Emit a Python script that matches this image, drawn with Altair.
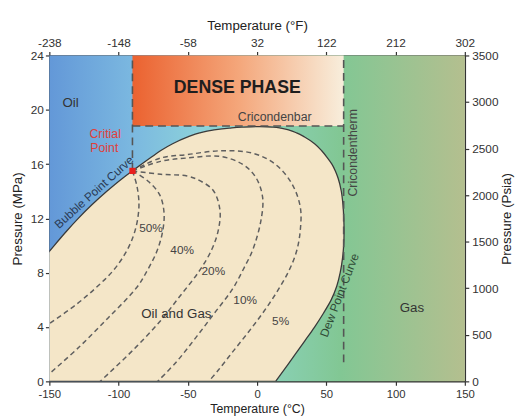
import altair as alt
import pandas as pd

FONT = "Liberation Sans Narrow, Arial Narrow, Liberation Sans, sans-serif"

# ---------------- axes ----------------
X_DOMAIN = [-150, 150]
Y_DOMAIN = [0, 24]
X_TICKS = [-150, -100, -50, 0, 50, 100, 150]
Y_TICKS = [0, 4, 8, 12, 16, 20, 24]
F_DOMAIN = [-238, 302]
F_TICKS = [-238, -148, -58, 32, 122, 212, 302]
PSIA_DOMAIN = [0, 3500]
PSIA_TICKS = [0, 500, 1000, 1500, 2000, 2500, 3000, 3500]

# ---------------- phase envelope (pressure MPa -> bubble / dew temperature C) ----------------
ENV_P = [0, 1, 2, 3, 4, 5, 6, 7, 8, 9, 9.57, 10, 11, 12, 13, 14, 15, 15.5, 16, 16.5,
         17, 17.5, 18, 18.3, 18.5, 18.65, 18.72, 18.75, 18.76]
ENV_BUBBLE_T = [-212.8, -207.1, -201.4, -195.4, -189.2, -182.8, -176.2, -169.3, -162.1, -154.5,
                -150, -146.5, -138.1, -129.1, -119.3, -108.5, -96.6, -90, -83.3, -76.5,
                -69.5, -61, -50, -41.5, -32, -20, -11, -4, 2]
ENV_DEW_T = [13.4, 20.5, 27.6, 34.6, 41.5, 47.8, 53.5, 57.5, 60.0, 61.6, 62.2, 62.5, 62.8, 62.6,
             62.0, 60.8, 58.4, 56.5, 54.0, 50.5, 46.5, 41.5, 34.3, 28.5, 23.2, 17.2, 11.7, 7.0, 2]

CRIT_T, CRIT_P = -90, 15.5
CRICONDENBAR_P = 18.8
CRICONDENTHERM_T = 62.5
CRICONDENTHERM_LOW_P = 1.4

# ---------------- quality lines ----------------
Q50_T = [-90, -86.8, -85.3, -86.4, -89.6, -95.3, -103.8, -115.2, -130.1, -150]
Q50_P = [15.5, 14.4, 13.09, 11.86, 10.63, 9.4, 8.17, 7.0, 5.7, 4.25]
Q40_T = [-90, -78.9, -70.4, -67.2, -68.3, -72.5, -78.9, -86.8, -107.4, -128.7, -150]
Q40_P = [15.5, 14.76, 13.75, 12.44, 10.99, 9.54, 8.24, 6.93, 4.69, 2.51, 0.56]
Q20_T = [-90, -69.5, -50.5, -41, -31.5, -26.8, -28, -32.8, -42, -56.2, -69.7, -89.6, -113.3]
Q20_P = [15.5, 15.25, 15.12, 14.76, 14.04, 12.59, 11.14, 9.69, 8.09, 6.21, 4.47, 2.3, 0]
Q10_T = [-90, -69.7, -50.5, -26.8, -10.2, -0.8, 4.0, 2.8, -3.1, -9.3, -17.8, -30.6, -44.1, -58.3, -71.8]
Q10_P = [15.5, 16.2, 16.45, 16.57, 15.97, 15.0, 13.55, 11.86, 9.69, 8.38, 6.79, 5.05, 3.24, 1.43, 0]
Q5_T = [-90, -69.7, -50.5, -26.8, -3.1, 13.4, 25.3, 31.2, 31.2, 28.4, 22.7, 14.2, 4.2, -6.5, -17.8, -27.8, -34.9]
Q5_P = [15.5, 16.45, 16.7, 16.98, 16.8, 15.97, 14.52, 12.83, 11.14, 9.54, 8.09, 6.57, 5.05, 3.6, 2.15, 0.85, 0]

PCT_LABELS = ["50%", "40%", "20%", "10%", "5%"]
PCT_T = [-76.6, -54.1, -31.6, -8.6, 17.0]
PCT_P = [11.3, 9.65, 8.12, 6.0, 4.43]

REGION_LABELS = ["Oil", "Oil and Gas", "Gas"]
REGION_T = [-134.7, -58.3, 111.8]
REGION_P = [20.5, 4.92, 5.41]

# ---------------- data frames ----------------
env_df = pd.DataFrame({"P": ENV_P, "Tb": ENV_BUBBLE_T, "Td": ENV_DEW_T})
bg_df = pd.DataFrame({"x1": [X_DOMAIN[0]], "x2": [X_DOMAIN[1]], "y1": [Y_DOMAIN[0]], "y2": [Y_DOMAIN[1]]})
dense_df = pd.DataFrame({"x1": [CRIT_T], "x2": [CRICONDENTHERM_T], "y1": [CRICONDENBAR_P], "y2": [Y_DOMAIN[1]]})
rules_df = pd.DataFrame({
    "x1": [CRIT_T, CRIT_T, CRICONDENTHERM_T],
    "x2": [CRIT_T, CRICONDENTHERM_T, CRICONDENTHERM_T],
    "y1": [CRIT_P, CRICONDENBAR_P, CRICONDENTHERM_LOW_P],
    "y2": [Y_DOMAIN[1], CRICONDENBAR_P, Y_DOMAIN[1]],
})
rows = []
for name, ts, ps in [("50%", Q50_T, Q50_P), ("40%", Q40_T, Q40_P), ("20%", Q20_T, Q20_P),
                     ("10%", Q10_T, Q10_P), ("5%", Q5_T, Q5_P)]:
    for i, (t, p) in enumerate(zip(ts, ps)):
        rows.append({"line": name, "i": i, "T": t, "P": p})
q_df = pd.DataFrame(rows)
pct_df = pd.DataFrame({"T": PCT_T, "P": PCT_P, "label": PCT_LABELS})
reg_df = pd.DataFrame({"T": REGION_T, "P": REGION_P, "label": REGION_LABELS})
crit_df = pd.DataFrame({"T": [CRIT_T], "P": [CRIT_P]})

# ---------------- scales / axes ----------------
AX = dict(domainColor="#333333", domainWidth=1.5, tickColor="#333333", tickWidth=1.2, tickSize=4,
          labelFont=FONT, labelFontSize=12, labelColor="#333333", titleFont=FONT, titleFontSize=13.5,
          titleFontWeight="normal", titleColor="#222222", grid=False, labelFlush=False,
          labelOverlap=False, labelExpr="'' + datum.value")
xscale = alt.Scale(domain=X_DOMAIN, nice=False, zero=False)
yscale = alt.Scale(domain=Y_DOMAIN, nice=False, zero=False)
xaxis = alt.Axis(values=X_TICKS, title="Temperature (°C)", orient="bottom", labelPadding=3,
                 titlePadding=3, **{**AX, "titleFontSize": 12.5, "labelFontSize": 11.5})
yaxis = alt.Axis(values=Y_TICKS, title="Pressure (MPa)", orient="left", labelPadding=2,
                 titlePadding=6, **AX)


def X(f):
    return alt.X(f, type="quantitative", scale=xscale, axis=xaxis)


def Y(f):
    return alt.Y(f, type="quantitative", scale=yscale, axis=yaxis)


bg = alt.Chart(bg_df).mark_rect(
    color=alt.LinearGradient(
        gradient="linear", x1=0, x2=1, y1=0, y2=0,
        stops=[alt.GradientStop(color="#6398d8", offset=0),
               alt.GradientStop(color="#7bb8e0", offset=0.2),
               alt.GradientStop(color="#8dd3da", offset=0.37),
               alt.GradientStop(color="#88cfb0", offset=0.56),
               alt.GradientStop(color="#82c794", offset=0.7),
               alt.GradientStop(color="#b4bf8f", offset=1)])
).encode(x=X("x1"), x2="x2", y=Y("y1"), y2="y2")

dense = alt.Chart(dense_df).mark_rect(
    color=alt.LinearGradient(
        gradient="linear", x1=0, x2=1, y1=0, y2=0,
        stops=[alt.GradientStop(color="#eb6230", offset=0),
               alt.GradientStop(color="#f4a67a", offset=0.5),
               alt.GradientStop(color="#f8eedc", offset=1)])
).encode(x=X("x1"), x2="x2", y=Y("y1"), y2="y2")

envelope = alt.Chart(env_df).mark_area(
    orient="horizontal", interpolate="monotone", fill="#f4e6c8", stroke="#3a3a3a",
    strokeWidth=1.3, clip=True
).encode(y=Y("P"), x=X("Tb"), x2="Td")

rules = alt.Chart(rules_df).mark_rule(color="#555555", strokeWidth=1.6, strokeDash=[8, 5]).encode(
    x=X("x1"), x2="x2", y=Y("y1"), y2="y2")

qlines = alt.Chart(q_df).mark_line(
    interpolate="catmull-rom", color="#5f5f5f", strokeWidth=1.5, strokeDash=[5, 3.5], clip=True
).encode(x=X("T"), y=Y("P"), detail="line:N", order="i:Q")

crit = alt.Chart(crit_df).mark_square(size=40, color="#e8201c", opacity=1).encode(x=X("T"), y=Y("P"))

pct = alt.Chart(pct_df).mark_text(font=FONT, fontSize=12, color="#444444").encode(
    x=X("T"), y=Y("P"), text="label:N")
regions = alt.Chart(reg_df).mark_text(font=FONT, fontSize=13.5, color="#333333").encode(
    x=X("T"), y=Y("P"), text="label:N")


def label(text, t, p, **kw):
    d = pd.DataFrame({"T": [t], "P": [p], "label": [text]})
    return alt.Chart(d).mark_text(font=FONT, **kw).encode(x=X("T"), y=Y("P"), text="label:N")


texts = [
    label("DENSE PHASE", -14.3, 21.6, fontSize=18, fontWeight="bold", color="#1e1e1e"),
    label("Cricondenbar", 12.7, 19.43, fontSize=12.5, color="#444444"),
    label("Cricondentherm", 69.5, 16.83, fontSize=12.5, color="#444444", angle=270),
    label("Critial", -109.7, 18.2, fontSize=12.5, color="#e0403a"),
    label("Point", -110.3, 17.17, fontSize=12.5, color="#e0403a"),
    label("Bubble Point Curve", -113.9, 13.5, fontSize=12, color="#2a3a55", angle=318,
          baseline="bottom", dy=-1),
    label("Dew Point Curve", 55.5, 6.5, fontSize=12, color="#2f4a35", angle=291,
          baseline="top", dy=1),
]

main = alt.layer(bg, dense, envelope, rules, qlines, crit, pct, regions, *texts)

top_axis = alt.Chart(pd.DataFrame({"F": F_TICKS})).mark_rule(opacity=0).encode(
    x=alt.X("F:Q", scale=alt.Scale(domain=F_DOMAIN, nice=False, zero=False),
            axis=alt.Axis(values=F_TICKS, title="Temperature (°F)", orient="top", labelPadding=2,
                          titlePadding=4, **AX)))
right_axis = alt.Chart(pd.DataFrame({"psia": PSIA_TICKS})).mark_rule(opacity=0).encode(
    y=alt.Y("psia:Q", scale=alt.Scale(domain=PSIA_DOMAIN, nice=False, zero=False),
            axis=alt.Axis(values=PSIA_TICKS, title="Pressure (Psia)", orient="right", labelPadding=3,
                          titlePadding=2, titleAngle=270, titleBaseline="top", **AX)))

chart = alt.layer(main, top_axis, right_axis).resolve_scale(
    x="independent", y="independent"
).properties(
    width=422, height=331,
    padding={"left": 42, "top": 45, "right": 54, "bottom": 34},
    autosize=alt.AutoSizeParams(type="none"),
).configure_view(strokeWidth=0)

chart.save("out.html", embed_options={"renderer": "svg", "actions": False})
